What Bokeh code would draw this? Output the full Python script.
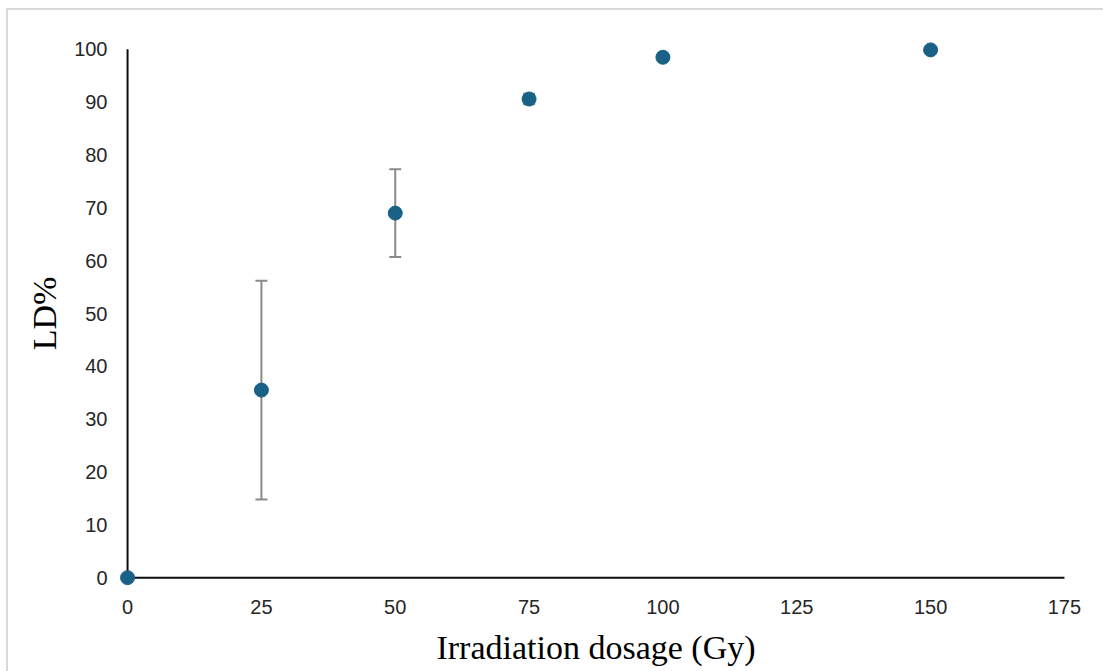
from bokeh.plotting import figure
from bokeh.models import ColumnDataSource, Whisker, TeeHead, FixedTicker, Range1d
from bokeh.embed import file_html
from bokeh.resources import INLINE

# Data
dose = [0, 25, 50, 75, 100, 150]
ld_pct = [0, 35.5, 69.0, 90.6, 98.5, 99.9]
ld_err = [0, 20.7, 8.3, 1.0, 0, 0]
x_ticks = [0, 25, 50, 75, 100, 125, 150, 175]
y_ticks = [0, 10, 20, 30, 40, 50, 60, 70, 80, 90, 100]

upper = [v + e for v, e in zip(ld_pct, ld_err)]
lower = [v - e for v, e in zip(ld_pct, ld_err)]
src = ColumnDataSource(dict(x=dose, y=ld_pct, upper=upper, lower=lower))
err_src = ColumnDataSource(dict(
    x=[d for d, e in zip(dose, ld_err) if e > 0],
    upper=[u for u, e in zip(upper, ld_err) if e > 0],
    lower=[l for l, e in zip(lower, ld_err) if e > 0],
))

p = figure(
    output_backend="svg", toolbar_location=None,
    frame_width=969, frame_height=560,
    x_range=Range1d(-3, 178), y_range=Range1d(-3, 103),
    min_border_left=103, min_border_top=23, min_border_right=23, min_border_bottom=78,
)
p.margin = (8, 0, 0, 6)
p.styles = {"border-top": "2px solid #d9d9d9", "border-left": "2px solid #d9d9d9"}
p.background_fill_color = "white"
p.border_fill_color = "white"
p.outline_line_color = None
p.grid.visible = False

for ax in (p.xaxis[0], p.yaxis[0]):
    ax.axis_line_color = None
    ax.major_tick_line_color = None
    ax.minor_tick_line_color = None
    ax.major_label_text_font = "Liberation Sans"
    ax.major_label_text_font_size = "20px"
    ax.major_label_text_color = "#262626"
    ax.axis_label_text_font = "Liberation Serif"
    ax.axis_label_text_font_size = "34px"
    ax.axis_label_text_font_style = "normal"
    ax.axis_label_text_color = "black"

p.xaxis.ticker = FixedTicker(ticks=x_ticks)
p.yaxis.ticker = FixedTicker(ticks=y_ticks)
p.xaxis.major_label_standoff = 0
p.yaxis.major_label_standoff = -2
p.xaxis.axis_label = "Irradiation dosage (Gy)"
p.yaxis.axis_label = "LD%"
p.xaxis.axis_label_standoff = 12
p.yaxis.axis_label_standoff = 8

# axis lines through the origin
p.segment(x0=[x_ticks[0], x_ticks[0]], y0=[y_ticks[0], y_ticks[0]],
          x1=[x_ticks[-1], x_ticks[0]], y1=[y_ticks[0], y_ticks[-1]],
          line_color="#0d0d0d", line_width=2)

w = Whisker(source=err_src, base="x", upper="upper", lower="lower",
            line_color="#8a8a8a", line_width=2,
            upper_head=TeeHead(size=12, line_color="#8a8a8a", line_width=2),
            lower_head=TeeHead(size=12, line_color="#8a8a8a", line_width=2))
p.add_layout(w)

p.scatter("x", "y", source=src, size=14, fill_color="#1a6187", line_color="#1a6187")

open("out.html", "w").write(file_html(p, INLINE))
